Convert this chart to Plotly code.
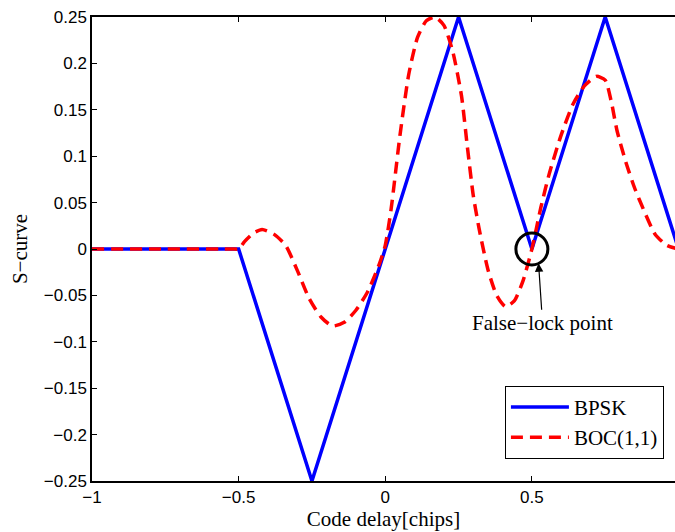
import plotly.graph_objects as go

# ---- data ----
bpsk_x = [-1.0, -0.5, -0.25, 0.25, 0.5, 0.75, 1.0]
bpsk_y = [0.0, 0.0, -0.25, 0.25, 0.0, 0.25, 0.0]

boc_x = [-1.0, -0.75, -0.55, -0.52, -0.5, -0.48, -0.45, -0.42, -0.38, -0.34,
         -0.30, -0.26, -0.22, -0.18, -0.14, -0.10, -0.06, -0.02, 0.0, 0.02,
         0.05, 0.08, 0.11, 0.14, 0.17, 0.20, 0.23, 0.26, 0.28, 0.30,
         0.32, 0.35, 0.38, 0.41, 0.44, 0.47, 0.50, 0.53, 0.56, 0.60,
         0.64, 0.68, 0.72, 0.75, 0.77, 0.79, 0.82, 0.85, 0.88, 0.92,
         0.96, 1.0]
boc_y = [0.0, 0.0, 0.0, 0.0, 0.0, 0.008, 0.017, 0.021, 0.016, 0.004,
         -0.023, -0.053, -0.073, -0.083, -0.079, -0.066, -0.046, -0.016, 0.004, 0.043,
         0.122, 0.188, 0.228, 0.246, 0.250, 0.241, 0.213, 0.165, 0.110, 0.058,
         0.022, -0.022, -0.050, -0.062, -0.056, -0.034, 0.0, 0.044, 0.082, 0.123,
         0.156, 0.176, 0.186, 0.182, 0.160, 0.128, 0.094, 0.066, 0.043, 0.016,
         0.004, 0.0]

x_ticks = [-1, -0.5, 0, 0.5]
x_ticklabels = ["\u22121", "\u22120.5", "0", "0.5"]
y_ticks = [-0.25, -0.2, -0.15, -0.1, -0.05, 0, 0.05, 0.1, 0.15, 0.2, 0.25]
y_ticklabels = ["\u22120.25", "\u22120.2", "\u22120.15", "\u22120.1", "\u22120.05",
                "0", "0.05", "0.1", "0.15", "0.2", "0.25"]

false_lock = (0.5, 0.0)
arrow_tip = (0.5227, -0.0154)

SERIF = "Liberation Serif, Times New Roman, serif"
SANS = "Liberation Sans, Arial, Helvetica, sans-serif"

fig = go.Figure()
fig.add_trace(go.Scatter(x=bpsk_x, y=bpsk_y, mode="lines", name="BPSK",
                         line=dict(color="#0000FF", width=3.5)))
fig.add_trace(go.Scatter(x=boc_x, y=boc_y, mode="lines", name="BOC(1,1)",
                         line=dict(color="#FF0000", width=3.5, dash="12px,7px",
                                   shape="spline", smoothing=0.6)))

fig.add_shape(type="circle", xref="x", yref="y",
              xsizemode="pixel", ysizemode="pixel",
              xanchor=false_lock[0], yanchor=false_lock[1],
              x0=-16, x1=16, y0=-16, y1=16,
              line=dict(color="black", width=3))

fig.add_annotation(x=arrow_tip[0], y=arrow_tip[1], xref="x", yref="y",
                   text="False\u2212lock point", showarrow=True,
                   ax=4, ay=60, arrowhead=2, arrowsize=1.4, arrowwidth=1.2,
                   arrowcolor="black",
                   font=dict(family=SERIF, size=21, color="black"))

fig.update_layout(
    width=675, height=532,
    margin=dict(l=92, r=0, t=17, b=51),
    paper_bgcolor="white", plot_bgcolor="white",
    showlegend=True,
    legend=dict(x=0.981, y=0.048, xanchor="right", yanchor="bottom",
                bgcolor="white", bordercolor="black", borderwidth=1,
                font=dict(family=SERIF, size=21, color="black"),
                itemwidth=58, tracegroupgap=0),
    xaxis=dict(range=[-1, 0.988], tickmode="array", tickvals=x_ticks,
               ticktext=x_ticklabels, ticks="inside", ticklen=5,
               tickcolor="black", showline=True, linecolor="black",
               linewidth=1.5, mirror="ticks", showgrid=False, zeroline=False,
               tickfont=dict(family=SANS, size=17, color="black"),
               title=dict(text="Code delay[chips]", standoff=4,
                          font=dict(family=SERIF, size=21, color="black"))),
    yaxis=dict(range=[-0.25, 0.25], tickmode="array", tickvals=y_ticks,
               ticktext=y_ticklabels, ticks="inside", ticklen=5,
               tickcolor="black", showline=True, linecolor="black",
               linewidth=1.5, showgrid=False, zeroline=False,
               tickfont=dict(family=SANS, size=17, color="black"),
               title=dict(text="S\u2212curve", standoff=10,
                          font=dict(family=SERIF, size=21, color="black"))),
    yaxis2=dict(range=[-0.25, 0.25], overlaying="y", side="right",
                tickmode="array", tickvals=y_ticks, ticks="inside", ticklen=4,
                tickcolor="black", showticklabels=False, showline=False,
                showgrid=False, zeroline=False),
)

fig.write_html("out.html")
